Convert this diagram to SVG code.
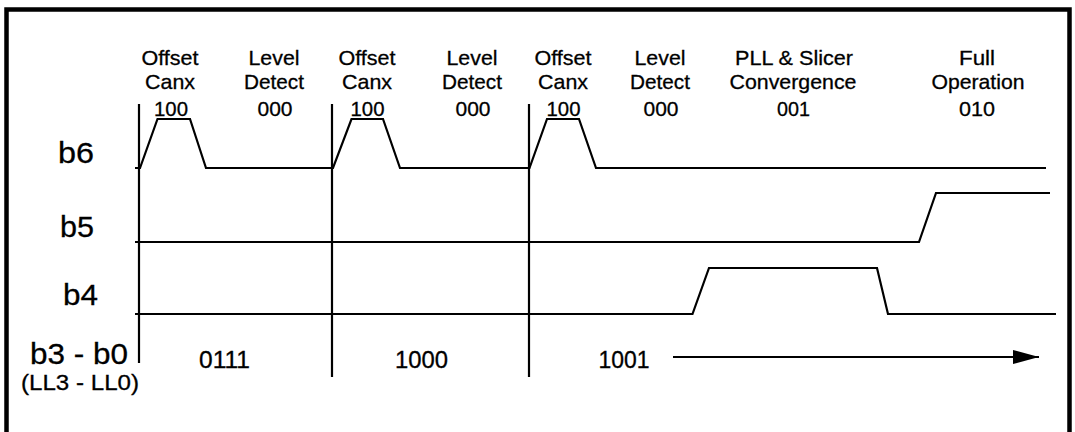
<svg xmlns="http://www.w3.org/2000/svg" width="1075" height="432" viewBox="0 0 1075 432">
<style>
text{font-family:"Liberation Sans",Arial,sans-serif;fill:#000;stroke:#000;stroke-width:0.3}
.h{font-size:21px;text-anchor:middle}
.v{font-size:23px;text-anchor:middle}
.big{font-size:30px}
.sm{font-size:22px}
.ln{fill:none;stroke:#000;stroke-width:2.2;stroke-linejoin:miter}
</style>
<defs>
<marker id="ah" markerWidth="26" markerHeight="14" refX="26" refY="7" orient="auto" markerUnits="userSpaceOnUse">
<path d="M0,0 L26,7 L0,14 Z" fill="#000"/>
</marker>
</defs>
<rect width="1075" height="432" fill="#fff"/>
<path d="M6.5,432 V9.5 H1069.5 V432" fill="none" stroke="#000" stroke-width="4.5"/>

<g id="connectors">
<path class="ln" d="M139,104 V363"/>
<path class="ln" d="M332,104 V377"/>
<path class="ln" d="M529,104 V377"/>
<path id="b6-signal" class="ln" d="M135,168 H140 L157.5,119 H190 L206,168 H333 L351.5,119 H383 L400,168 H529.5 L547,119 H579 L596,168 H1046"/>
<path id="b5-signal" class="ln" d="M135,242 H919 L936,193 H1050"/>
<path id="b4-signal" class="ln" d="M135,314 H692.5 L709,268 H877 L888,314 H1056"/>
<path id="b30-arrow" class="ln" d="M673,357 H1039" marker-end="url(#ah)"/>
</g>

<g id="phase1">
<text class="h" x="170" y="65" textLength="57" lengthAdjust="spacingAndGlyphs">Offset</text>
<text class="h" x="170" y="88.5" textLength="50" lengthAdjust="spacingAndGlyphs">Canx</text>
<text class="h" x="171" y="116" textLength="34" lengthAdjust="spacingAndGlyphs">100</text>
</g>
<g id="phase2">
<text class="h" x="274" y="65" textLength="51" lengthAdjust="spacingAndGlyphs">Level</text>
<text class="h" x="274" y="88.5" textLength="60" lengthAdjust="spacingAndGlyphs">Detect</text>
<text class="h" x="275" y="116" textLength="35" lengthAdjust="spacingAndGlyphs">000</text>
</g>
<g id="phase3">
<text class="h" x="367" y="65" textLength="57" lengthAdjust="spacingAndGlyphs">Offset</text>
<text class="h" x="367" y="88.5" textLength="50" lengthAdjust="spacingAndGlyphs">Canx</text>
<text class="h" x="367.5" y="116" textLength="34" lengthAdjust="spacingAndGlyphs">100</text>
</g>
<g id="phase4">
<text class="h" x="472" y="65" textLength="51" lengthAdjust="spacingAndGlyphs">Level</text>
<text class="h" x="472" y="88.5" textLength="60" lengthAdjust="spacingAndGlyphs">Detect</text>
<text class="h" x="473" y="116" textLength="35" lengthAdjust="spacingAndGlyphs">000</text>
</g>
<g id="phase5">
<text class="h" x="563" y="65" textLength="57" lengthAdjust="spacingAndGlyphs">Offset</text>
<text class="h" x="563" y="88.5" textLength="50" lengthAdjust="spacingAndGlyphs">Canx</text>
<text class="h" x="563.5" y="116" textLength="34" lengthAdjust="spacingAndGlyphs">100</text>
</g>
<g id="phase6">
<text class="h" x="660" y="65" textLength="51" lengthAdjust="spacingAndGlyphs">Level</text>
<text class="h" x="660" y="88.5" textLength="60" lengthAdjust="spacingAndGlyphs">Detect</text>
<text class="h" x="661" y="116" textLength="35" lengthAdjust="spacingAndGlyphs">000</text>
</g>
<g id="phase7">
<text class="h" x="794" y="65" textLength="118" lengthAdjust="spacingAndGlyphs">PLL &amp; Slicer</text>
<text class="h" x="793" y="88.5" textLength="127" lengthAdjust="spacingAndGlyphs">Convergence</text>
<text class="h" x="793.5" y="116" textLength="33" lengthAdjust="spacingAndGlyphs">001</text>
</g>
<g id="phase8">
<text class="h" x="977" y="65" textLength="36" lengthAdjust="spacingAndGlyphs">Full</text>
<text class="h" x="978" y="88.5" textLength="93" lengthAdjust="spacingAndGlyphs">Operation</text>
<text class="h" x="977" y="116" textLength="36" lengthAdjust="spacingAndGlyphs">010</text>
</g>

<g id="label-b6"><text class="big" x="58" y="163" textLength="36" lengthAdjust="spacingAndGlyphs">b6</text></g>
<g id="label-b5"><text class="big" x="60" y="237" textLength="34" lengthAdjust="spacingAndGlyphs">b5</text></g>
<g id="label-b4"><text class="big" x="63" y="305" textLength="35" lengthAdjust="spacingAndGlyphs">b4</text></g>
<g id="label-b3b0">
<text class="big" x="30" y="363.5" textLength="98" lengthAdjust="spacingAndGlyphs">b3 - b0</text>
<text class="sm" x="21" y="389.5" textLength="118" lengthAdjust="spacingAndGlyphs">(LL3 - LL0)</text>
</g>

<g id="value-0111"><text class="v" x="224.5" y="367.5" textLength="51" lengthAdjust="spacingAndGlyphs">0111</text></g>
<g id="value-1000"><text class="v" x="421.5" y="367.5" textLength="53" lengthAdjust="spacingAndGlyphs">1000</text></g>
<g id="value-1001"><text class="v" x="624" y="367.5" textLength="51" lengthAdjust="spacingAndGlyphs">1001</text></g>
</svg>
